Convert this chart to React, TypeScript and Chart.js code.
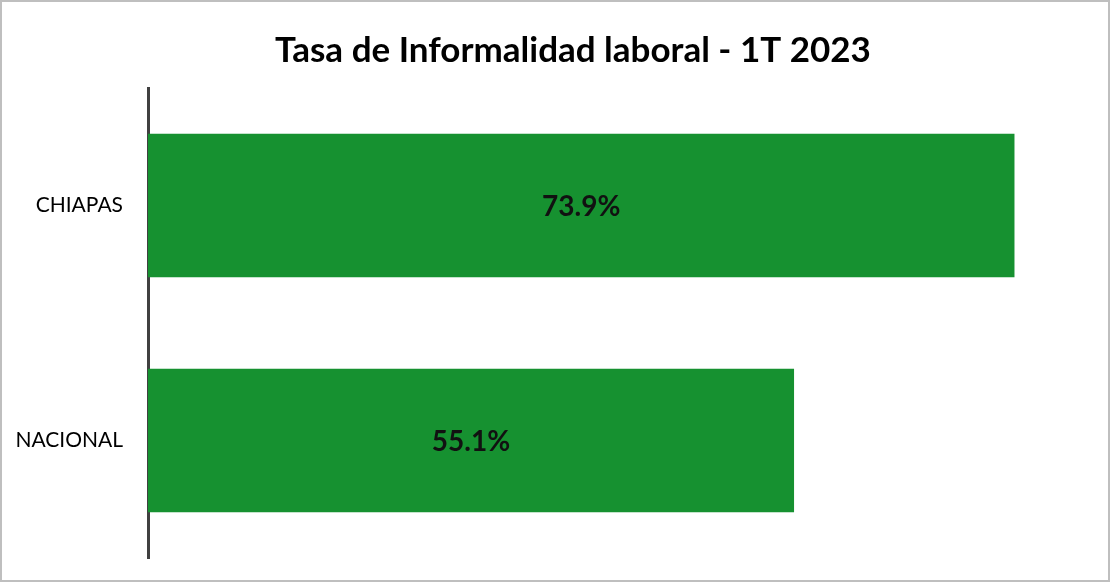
import React, { useEffect, useRef } from "react";
import { Chart, registerables } from "chart.js";

Chart.register(...registerables);

const title = "Tasa de Informalidad laboral - 1T 2023";
const categories = ["CHIAPAS", "NACIONAL"];
const values = [73.9, 55.1];
const barColor = "#169130";
const FONT = "Lato, 'Open Sans', sans-serif";

const decorPlugin = {
  id: "decor",
  beforeDraw(chart: any) {
    const { ctx, width, height } = chart;
    ctx.save();
    ctx.fillStyle = "#ffffff";
    ctx.fillRect(0, 0, width, height);
    ctx.restore();
  },
  afterDraw(chart: any) {
    const { ctx, width, height } = chart;
    ctx.save();
    // border
    ctx.strokeStyle = "#bfbfbf";
    ctx.lineWidth = 2;
    ctx.strokeRect(1, 1, width - 2, height - 2);
    // title
    ctx.fillStyle = "#000000";
    ctx.font = `bold 35px ${FONT}`;
    ctx.textAlign = "center";
    ctx.textBaseline = "alphabetic";
    ctx.fillText(title, 573, 62);
    // value labels
    const meta = chart.getDatasetMeta(0);
    ctx.font = `bold 28px ${FONT}`;
    ctx.fillStyle = "#111111";
    ctx.textBaseline = "middle";
    meta.data.forEach((bar: any, i: number) => {
      const cx = (bar.x + bar.base) / 2;
      ctx.fillText(values[i].toFixed(1) + "%", cx, bar.y + 1);
    });
    ctx.restore();
  },
};

export default function App() {
  const ref = useRef<HTMLCanvasElement | null>(null);
  useEffect(() => {
    if (!ref.current) return;
    const chart = new Chart(ref.current, {
      type: "bar",
      data: {
        labels: categories,
        datasets: [
          {
            data: values,
            backgroundColor: barColor,
            borderWidth: 0,
            barPercentage: 0.61,
            categoryPercentage: 1,
          },
        ],
      },
      options: {
        indexAxis: "y",
        animation: false,
        responsive: false,
        layout: { padding: { top: 88, bottom: 24, right: 24, left: 0 } },
        plugins: {
          legend: { display: false },
          title: { display: false },
          tooltip: { enabled: false },
        },
        scales: {
          x: { display: false, min: 0, max: 80 },
          y: {
            afterFit(scale: any) {
              scale.width = 148;
              scale.paddingTop = 0;
              scale.paddingBottom = 0;
            },
            grid: { display: false, drawTicks: false },
            border: { display: true, color: "#404040", width: 3 },
            ticks: {
              color: "#000000",
              padding: 25,
              font: { family: FONT, size: 21 },
            },
          },
        },
      },
      plugins: [decorPlugin],
    });
    return () => chart.destroy();
  }, []);
  return (
    <div style={{ position: "fixed", left: 0, top: 0, width: 1110, height: 582 }}>
      <canvas ref={ref} width={1110} height={582} style={{ display: "block" }} />
    </div>
  );
}
